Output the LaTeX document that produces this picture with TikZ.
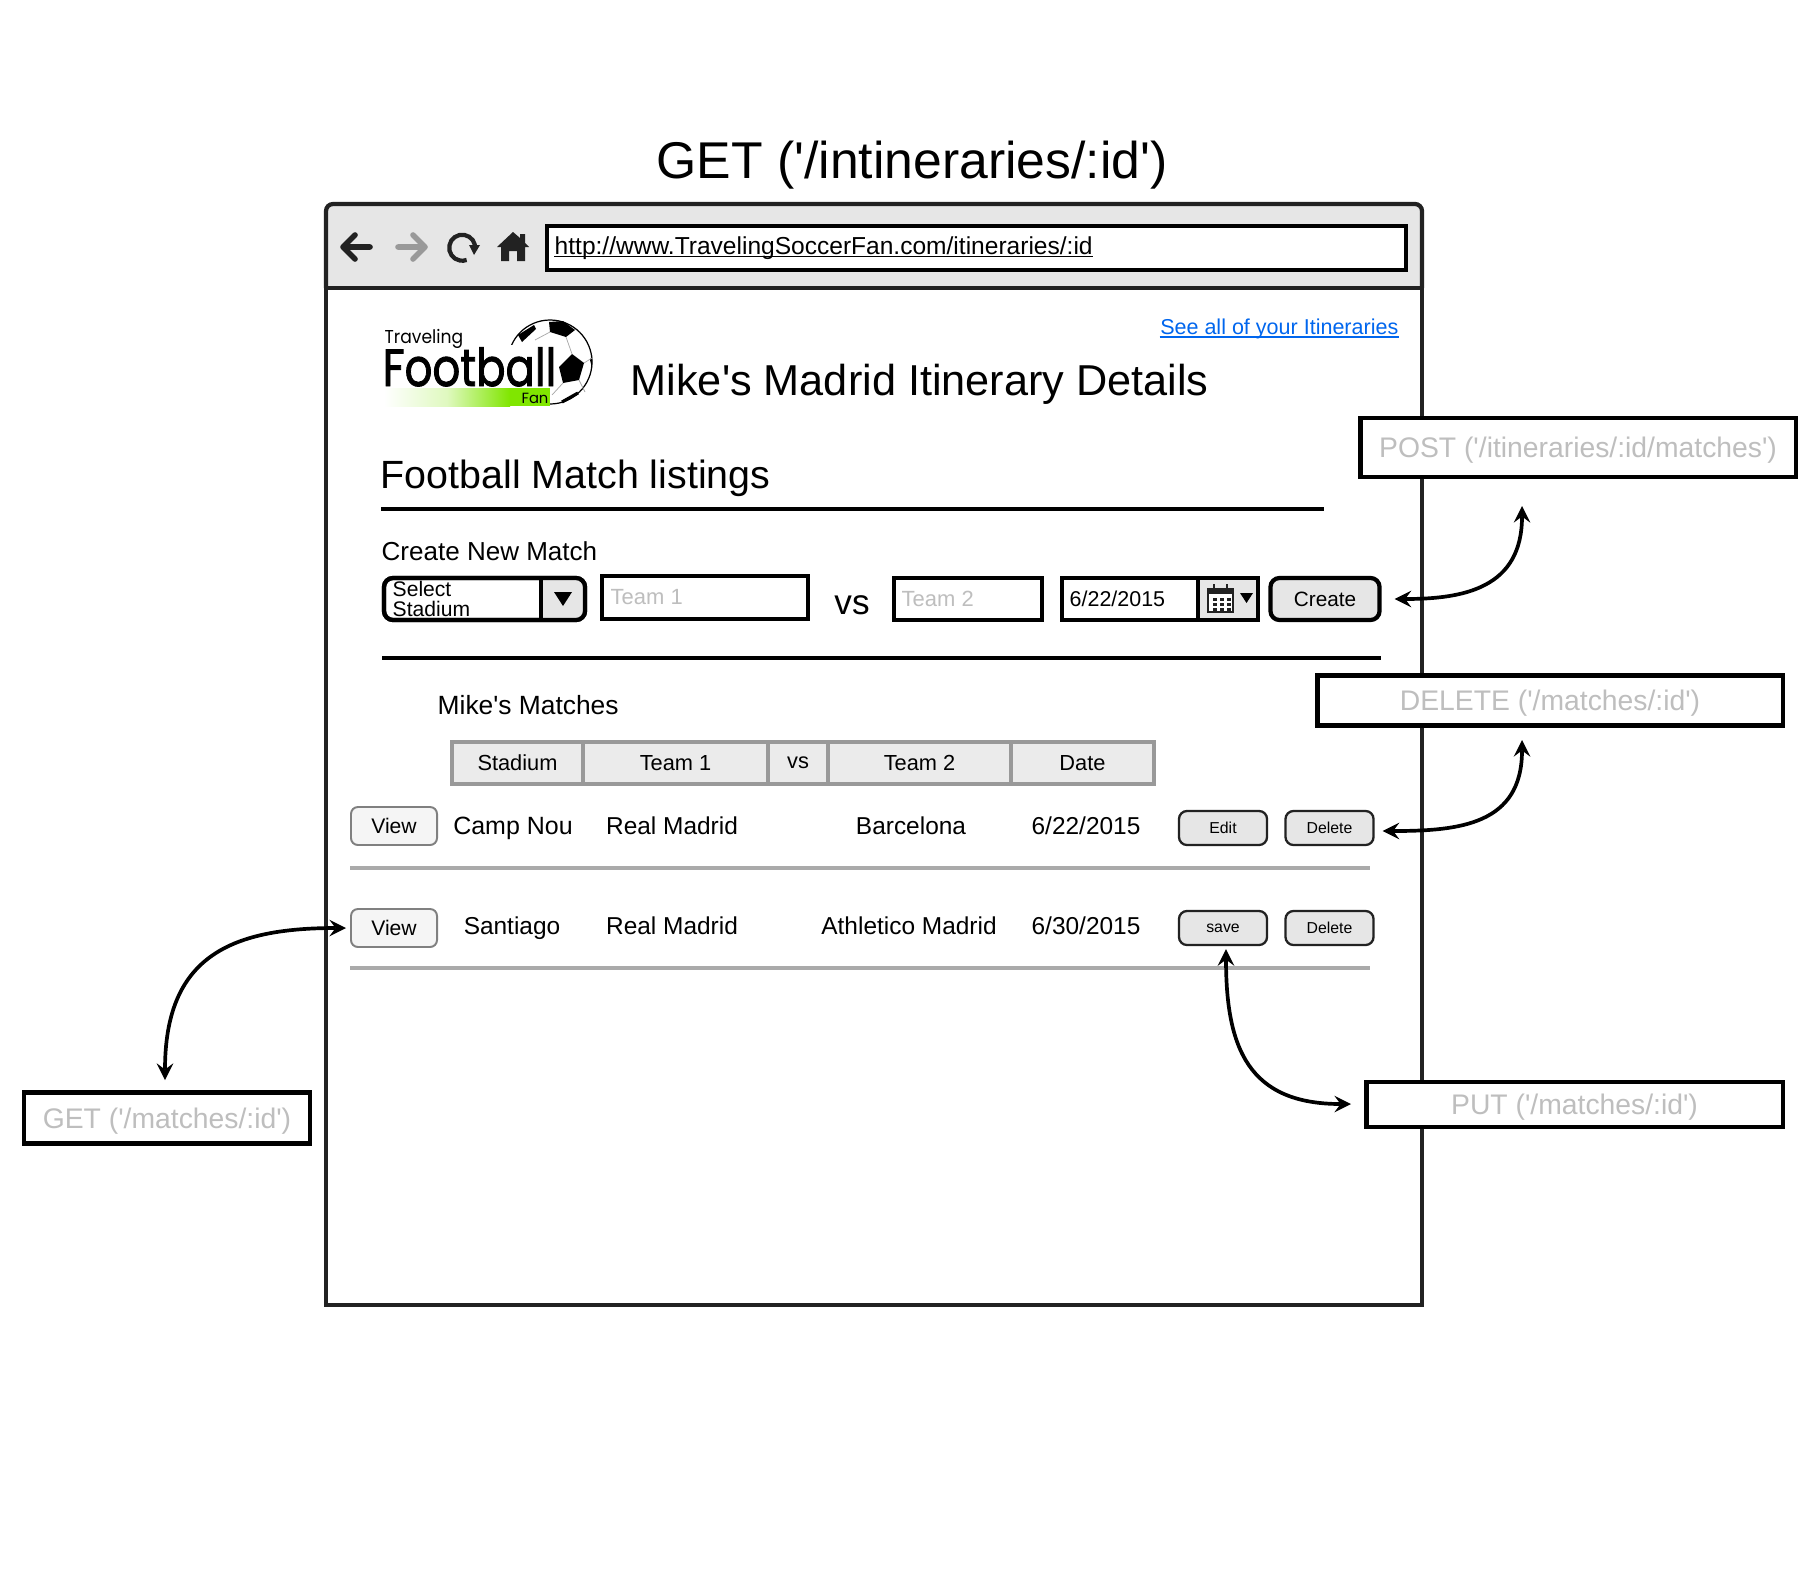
\documentclass[tikz,border=0pt]{standalone}
\usepackage{graphicx}
\usepackage{fontspec}
\setmainfont{Liberation Sans}
\newfontfamily\logofont{Poppins}
\newfontfamily\logoheavy{Poppins}[FakeBold=1.8]
\usetikzlibrary{shadings}
\definecolor{framecolor}{RGB}{34,34,34}
\definecolor{barfill}{RGB}{230,230,230}
\definecolor{headfill}{RGB}{235,235,235}
\definecolor{headline}{RGB}{153,153,153}
\definecolor{rulecolor}{RGB}{170,170,170}
\definecolor{hintcolor}{RGB}{190,190,190}
\definecolor{linkcolor}{RGB}{0,102,238}
\definecolor{logogreen}{RGB}{128,230,0}
\newcommand{\fsize}[1]{\fontsize{#1}{#1}\selectfont}
\newcommand{\sq}{\textquotesingle}
\tikzset{
  label/.style={inner sep=0pt, text=black},
  rowtext/.style={inner sep=0pt, anchor=base, font=\fsize{6.95}},
  hintbox/.style={draw=black, line width=1.2pt, fill=white, text=hintcolor, inner sep=0pt, text depth=0pt, font=\fsize{8.05}},
  field/.style={draw=black, line width=1.2pt, fill=white, inner sep=0pt},
  viewbtn/.style={draw=gray, line width=.55pt, fill=white!96!black, rounded corners=.07cm, inner sep=0pt,
    minimum width=.86cm, minimum height=.38cm, font=\fsize{6}},
  rowbtn/.style={draw=framecolor, line width=.65pt, fill=barfill, rounded corners=.08cm, inner sep=0pt,
    minimum width=.88cm, minimum height=.34cm, font=\fsize{4.5}},
  headcell/.style={draw=headline, line width=1.1pt, fill=headfill, inner sep=0pt, minimum height=.42cm, font=\fsize{6.2}},
  link/.style={<->, >=stealth, line width=1.05pt, black},
}

\begin{document}
\begin{tikzpicture}[x=.01cm, y=-.01cm]
  \useasboundingbox (0,0) rectangle (1798,1594);

  % Title above the browser
  \node[label, font=\fsize{14.7}] (pagetitle) at (912,165) {GET (\sq/intineraries/:id\sq)};

  % Browser window and toolbar
  \draw[framecolor, line width=1.2pt, fill=barfill, rounded corners=.07cm] (326,288) -- (326,204) -- (1422,204) -- (1422,288);
  \draw[framecolor, line width=1.2pt, fill=white] (326,288) rectangle (1422,1305);
  \node[field, anchor=north west, minimum width=8.58cm, minimum height=.44cm] (urlbox) at (545,224) {};
  \node[label, anchor=base west, font=\fsize{6.98}] (urltext) at (554,254) {http://www.TravelingSoccerFan.com/itineraries/:id};
  \draw[black, line width=.55pt] ([yshift=-.025cm]urltext.base west) -- ([yshift=-.025cm]urltext.base east);

  % Toolbar icons
  \draw[framecolor, line width=1.6pt, line cap=round, line join=round] (370,247) -- (344,247) (355,235) -- (343,247) -- (355,259);
  \draw[gray!80, line width=1.6pt, line cap=round, line join=round] (398,247) -- (424,247) (413,235) -- (425,247) -- (413,259);
  \draw[framecolor, line width=1.2pt] (475,250) arc (10:-290:13);
  \fill[framecolor] (469,245) -- (480,245) -- (474,255) -- cycle;
  \fill[framecolor] (513,232) -- (520,238) -- (520,234) -- (525,234) -- (525,243) -- (529,247) -- (525,247) -- (525,261) -- (517,261) -- (517,251) -- (509,251) -- (509,261) -- (501,261) -- (501,247) -- (497,247) -- cycle;

  % Logo
  \draw[black, line width=.35pt, fill=white] (550,362) circle (42);
  \fill[black] (572,354) -- (584,363) -- (579,380) -- (563,383) -- (559,367) -- cycle;
  \fill[black] (549,322) -- (563,321) -- (575,330) -- (566,337) -- (550,332) -- cycle;
  \fill[black] (518,335) -- (534,325) -- (536,329) -- (522,342) -- cycle;
  \fill[black] (590,360) -- (592,355) -- (592,368) -- cycle;
  \draw[black, line width=.9pt] (578,393) -- (562,402);
  \draw[gray!70, line width=.2pt] (572,354) -- (566,337) (584,363) -- (592,358) (579,380) -- (585,392) (563,383) -- (552,395) (550,332) -- (535,340);
  \fill[white] (505,345) rectangle (553,392);
  \shade[left color=white, right color=logogreen, middle color=logogreen!25] (384,388) rectangle (510,406);
  \fill[logogreen] (510,388) rectangle (550,406);
  \node[label, anchor=base west, font=\logofont\fsize{5.3}] (logotop) at (384,343) {\scalebox{.92}[1]{Traveling}};
  \node[label, anchor=base west, font=\logoheavy\fsize{14.9}] (logomain) at (382,386) {\scalebox{.83}[1]{Football}};
  \node[label, anchor=center, font=\logofont\fsize{4.2}] (logofan) at (535,398) {Fan};

  % Page headings
  \node[label, anchor=base east, text=linkcolor, font=\fsize{6.12}] (allitin) at (1399,334) {See all of your Itineraries};
  \draw[linkcolor, line width=.4pt] ([yshift=-.03cm]allitin.base west) -- ([yshift=-.03cm]allitin.base east);
  \node[label, anchor=west, font=\fsize{12.3}] (detailtitle) at (630,384) {Mike\sq s Madrid Itinerary Details};
  \node[label, anchor=west, font=\fsize{11.2}] (listtitle) at (380,478) {Football Match listings};
  \draw[black, line width=1.1pt] (381,509) -- (1324,509);

  % Create form
  \node[label, anchor=west, font=\fsize{7.4}] (createtitle) at (381,551) {Create New Match};
  \node[field, rounded corners=.09cm, minimum width=2.01cm, minimum height=.42cm] (selectbox) at (484.5,599) {};
  \fill[barfill, rounded corners=.09cm] (541,578) [rounded corners=.09cm] -- (585,578) -- (585,620) [sharp corners] -- (541,620) -- cycle;
  \draw[black, line width=1.2pt, rounded corners=.09cm] (384,578) rectangle (585,620);
  \draw[black, line width=1.2pt] (541,578) -- (541,620);
  \fill[black] (554,592) -- (572,592) -- (563,606) -- cycle;
  \node[label, anchor=west, align=left, font=\fontsize{6}{5.5}\selectfont] (selecttext) at (392,599) {Select\\Stadium};

  \node[field, anchor=north west, minimum width=2.06cm, minimum height=.43cm] (teamone) at (600,574) {};
  \node[label, anchor=west, text=hintcolor, font=\fsize{6.25}] (teamonetext) at (610,597) {Team 1};
  \node[label, font=\fsize{10}] (vslabel) at (852,605) {vs};
  \node[field, anchor=north west, minimum width=1.48cm, minimum height=.42cm] (teamtwo) at (892,576) {};
  \node[label, anchor=west, text=hintcolor, font=\fsize{6.25}] (teamtwotext) at (901,599) {Team 2};

  \fill[barfill] (1198,576) rectangle (1259,622);
  \node[field, fill=none, anchor=north west, minimum width=1.96cm, minimum height=.42cm] (datebox) at (1060,576) {};
  \draw[black, line width=1.2pt] (1198,576) -- (1198,622);
  \node[label, anchor=west, font=\fsize{6.1}] (datetext) at (1069,599) {6/22/2015};
  % Calendar icon
  \draw[framecolor, line width=.7pt, fill=white] (1208,589) rectangle (1233,612);
  \fill[framecolor] (1208,589) rectangle (1233,594);
  \foreach \px in {1213,1220,1227}
    \foreach \py in {598,603,608}
      \fill[framecolor] (\px,\py) rectangle ++(4,3);
  \draw[framecolor, line width=.7pt] (1214,584) -- (1214,590) (1227,584) -- (1227,590);
  \fill[black] (1240,593) -- (1253,593) -- (1246.5,603) -- cycle;
  \node[field, fill=barfill, rounded corners=.09cm, minimum width=1.09cm, minimum height=.42cm, font=\fsize{5.9}] (createbtn) at (1325,599) {Create};

  \draw[black, line width=1.2pt] (382,658) -- (1381,658);

  % Matches table
  \node[label, anchor=west, font=\fsize{7.5}] (matchtitle) at (437,705) {Mike\sq s Matches};
  \node[headcell, minimum width=1.31cm] (headstadium) at (517.5,763) {Stadium};
  \node[headcell, minimum width=1.85cm] (headteamone) at (675.5,763) {Team 1};
  \node[headcell, minimum width=.60cm] (headvs) at (798,763) {vs};
  \node[headcell, minimum width=1.83cm] (headteamtwo) at (919.5,763) {Team 2};
  \node[headcell, minimum width=1.43cm] (headdate) at (1082.5,763) {Date};

  % First row
  \node[viewbtn] (viewone) at (394,826) {View};
  \node[rowtext, font=\fsize{7.1}] (stadiumone) at (513,834) {Camp Nou};
  \node[rowtext] (homeone) at (672,834) {Real Madrid};
  \node[rowtext] (awayone) at (911,834) {Barcelona};
  \node[rowtext] (dateone) at (1086,834) {6/22/2015};
  \node[rowbtn] (editbtn) at (1223,828) {Edit};
  \node[rowbtn] (deleteone) at (1329.5,828) {Delete};
  \draw[rulecolor, line width=1.1pt] (350,868) -- (1370,868);

  % Second row
  \node[viewbtn] (viewtwo) at (394,928) {View};
  \node[rowtext] (stadiumtwo) at (512,934) {Santiago};
  \node[rowtext] (hometwo) at (672,934) {Real Madrid};
  \node[rowtext] (awaytwo) at (909,934) {Athletico Madrid};
  \node[rowtext] (datetwo) at (1086,934) {6/30/2015};
  \node[rowbtn] (savebtn) at (1223,928) {save};
  \node[rowbtn] (deletetwo) at (1329.5,928) {Delete};
  \draw[rulecolor, line width=1.1pt] (350,968) -- (1370,968);

  % Request boxes outside the window
  \node[hintbox, minimum width=4.35cm, minimum height=.59cm] (postbox) at (1578,447.5) {POST (\sq/itineraries/:id/matches\sq)};
  \node[hintbox, minimum width=4.65cm, minimum height=.50cm] (deletebox) at (1550,700.5) {DELETE (\sq/matches/:id\sq)};
  \node[hintbox, minimum width=4.16cm, minimum height=.45cm] (putbox) at (1574.5,1104.5) {PUT (\sq/matches/:id\sq)};
  \node[hintbox, minimum width=2.86cm, minimum height=.51cm] (getbox) at (167,1118) {GET (\sq/matches/:id\sq)};

  % Free ends near the boxes
  \coordinate (postend) at (1522,506);
  \coordinate (deleteend) at (1522,740);
  \coordinate (putend) at (1351,1104);
  \coordinate (getend) at (165,1080);

  % Connectors
  \draw[link, shorten <=.13cm] (createbtn.east) to[out=0, in=-90, looseness=1.25] (postend);
  \draw[link, shorten <=.08cm] ([yshift=-.03cm]deleteone.east) to[out=0, in=-90, looseness=1.25] (deleteend);
  \draw[link, shorten <=.03cm] ([xshift=.03cm]savebtn.south) to[out=-90, in=180, looseness=1.3] (putend);
  \draw[link, shorten <=.04cm] (viewtwo.west) to[out=180, in=90, looseness=1.3] (getend);
\end{tikzpicture}
\end{document}
